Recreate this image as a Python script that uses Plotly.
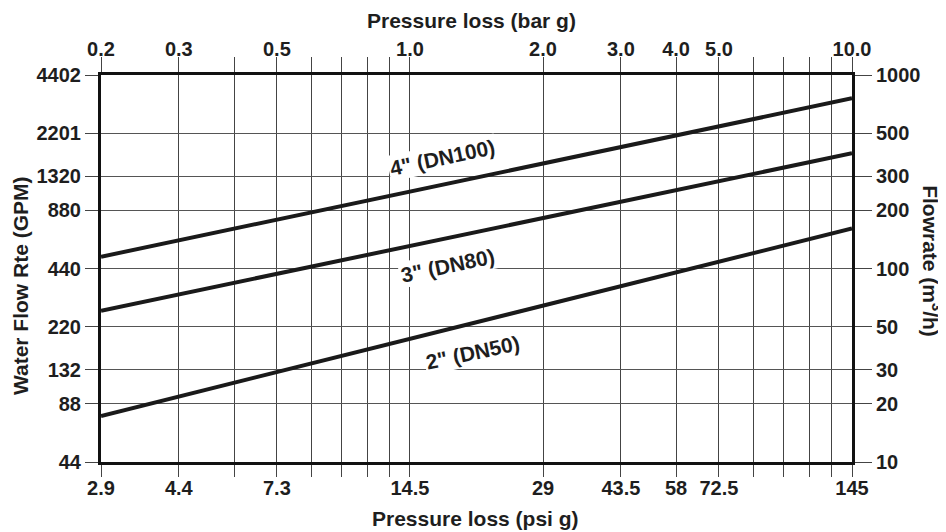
import math
import plotly.graph_objects as go

# ---- data ----
# pressure loss in bar g (line endpoints)
pressure_bar = [0.2, 10.0]
# flowrate in m3/h
flow_4in = [115, 758]
flow_3in = [60.5, 394]
flow_2in = [17.3, 161]

series_names = ['4" (DN100)', '3" (DN80)', '2" (DN50)']

# x grid / tick positions in bar g
bar_grid = [0.2, 0.3, 0.4, 0.5, 0.6, 0.7, 0.8, 0.9, 1.0,
            2.0, 3.0, 4.0, 5.0, 6.0, 7.0, 8.0, 9.0, 10.0]
bar_labels = ["0.2", "0.3", "", "0.5", "", "", "", "", "1.0",
              "2.0", "3.0", "4.0", "5.0", "", "", "", "", "10.0"]
psi_labels = ["2.9", "4.4", "", "7.3", "", "", "", "", "14.5",
              "29", "43.5", "58", "72.5", "", "", "", "", "145"]

# y tick positions in m3/h, with GPM equivalents
flow_ticks = [10, 20, 30, 50, 100, 200, 300, 500, 1000]
m3h_labels = ["10", "20", "30", "50", "100", "200", "300", "500", "1000"]
gpm_labels = ["44", "88", "132", "220", "440", "880", "1320", "2201", "4402"]

FONT = "Liberation Sans"
TXT = "#1e1e1e"

fig = go.Figure()
for name, vals in zip(series_names, [flow_4in, flow_3in, flow_2in]):
    fig.add_trace(go.Scatter(x=pressure_bar, y=vals, mode="lines", name=name,
                             line=dict(color="#1a1a1a", width=4),
                             hoverinfo="skip", showlegend=False))

# invisible trace to activate secondary axes
fig.add_trace(go.Scatter(x=[bar_grid[0], bar_grid[-1]], y=[flow_ticks[0], flow_ticks[-1]],
                         xaxis="x2", yaxis="y2", mode="markers",
                         marker=dict(opacity=0), hoverinfo="skip", showlegend=False))

xr = [math.log10(bar_grid[0]), math.log10(bar_grid[-1])]
yr = [math.log10(flow_ticks[0]), math.log10(flow_ticks[-1])]
tickfont = dict(family=FONT, size=20, color=TXT, weight="bold")

common = dict(tickmode="array", tickcolor="#444", tickwidth=1, ticks="outside",
              showline=True, linewidth=3, linecolor="#111", zeroline=False,
              tickfont=tickfont, fixedrange=True, automargin=False)

# page body has an 8px default margin; size the figure so the plot area lands
# where the reference has it
fig.update_layout(
    width=938, height=524,
    margin=dict(l=93, r=94, t=67, b=70, autoexpand=False),
    paper_bgcolor="white", plot_bgcolor="white",
    showlegend=False,
    xaxis=dict(type="log", range=xr, tickvals=bar_grid, ticktext=psi_labels, ticklen=12,
               ticklabelstandoff=-6,
               showgrid=True, gridcolor="#444", gridwidth=1, **common),
    xaxis2=dict(type="log", range=xr, overlaying="x", side="top",
                tickvals=bar_grid, ticktext=bar_labels, ticklen=15,
                ticklabelstandoff=-7,
                showgrid=False, **common),
    yaxis=dict(type="log", range=yr, tickvals=flow_ticks, ticktext=gpm_labels, ticklen=13,
               showgrid=True, gridcolor="#555", gridwidth=1, **common),
    yaxis2=dict(type="log", range=yr, overlaying="y", side="right",
                tickvals=flow_ticks, ticktext=m3h_labels, ticklen=17,
                showgrid=False, **common),
)

title_font = dict(family=FONT, size=21, color=TXT, weight="bold")
label_font = dict(family=FONT, size=21, color=TXT, weight="bold")

annots = [
    dict(text="Pressure loss (bar g)", x=0.494, y=1.142, textangle=0, font=title_font),
    dict(text="Pressure loss (psi g)", x=0.499, y=-0.145, textangle=0, font=title_font),
    dict(text="Water Flow Rte (GPM)", x=-0.108, y=0.457, textangle=-90, font=title_font),
    dict(text="Flowrate (m<sup>3</sup>/h)", x=1.107, y=0.518, textangle=90, font=title_font),
    dict(text=series_names[0], x=0.455, y=0.786, textangle=-12, font=label_font, bgcolor="white"),
    dict(text=series_names[1], x=0.462, y=0.509, textangle=-12, font=label_font, bgcolor="white"),
    dict(text=series_names[2], x=0.495, y=0.284, textangle=-12, font=label_font, bgcolor="white"),
]
for a in annots:
    fig.add_annotation(xref="paper", yref="paper", showarrow=False,
                       xanchor="center", yanchor="middle", **a)

fig.write_html("out.html")
